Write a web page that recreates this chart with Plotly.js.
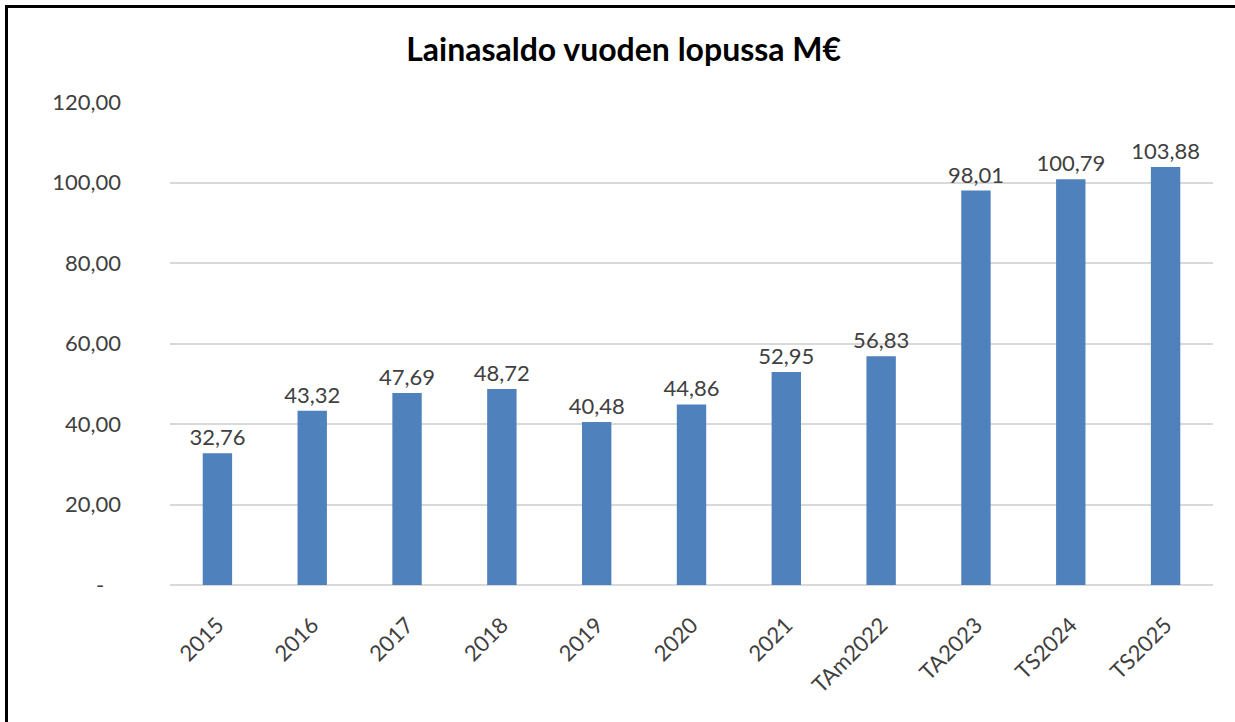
<!DOCTYPE html>
<html>
<head>
<meta charset="utf-8">
<script src="https://cdn.plot.ly/plotly-3.0.1.min.js"></script>
<style>
  body { margin: 0; background: #fff; }
  #chart { position: absolute; left: 0; top: 0; width: 1235px; height: 722px; }
  /* frame of the original screenshot: only top and left edges are visible */
  #frame { position: absolute; left: 5px; top: 5px; width: 1300px; height: 800px;
           border-top: 3px solid #000; border-left: 3px solid #000; pointer-events: none; }
</style>
</head>
<body>
<div id="chart"></div>
<div id="frame"></div>
<script>
// categories and loan balance (M€) at year end
var years = ["2015", "2016", "2017", "2018", "2019", "2020", "2021", "TAm2022", "TA2023", "TS2024", "TS2025"];
var balance = [32.76, 43.32, 47.69, 48.72, 40.48, 44.86, 52.95, 56.83, 98.01, 100.79, 103.88];

var yTicks = [0, 20, 40, 60, 80, 100, 120];
var yTickText = ["-\u00a0\u00a0\u00a0", "20,00", "40,00", "60,00", "80,00", "100,00", "120,00"];

// finnish decimal comma for the labels
var labels = balance.map(v => v.toFixed(2).replace(".", ","));

var trace = {
    x: years,
    y: balance,
    type: "bar",
    text: labels,
    textposition: "outside",
    constraintext: "none",
    cliponaxis: false,
    textfont: {size: 22, color: "#404040"},
    marker: {color: "#4F81BD"},
    hoverinfo: "x+y"
};

var layout = {
    title: {
        text: "<b>Lainasaldo vuoden lopussa M€</b>",
        font: {family: "Lato, sans-serif", size: 32, color: "#000"},
        x: 0.505, xanchor: "center",
        y: 1 - 50 / 722, yanchor: "middle", yref: "container"
    },
    font: {family: "Lato, sans-serif", color: "#404040"},
    width: 1235,
    height: 722,
    margin: {l: 170, r: 22, t: 102, b: 137},
    bargap: 0.69,
    showlegend: false,
    paper_bgcolor: "#fff",
    plot_bgcolor: "#fff",
    xaxis: {
        type: "category",
        tickangle: -45,
        tickfont: {size: 22, color: "#404040"},
        ticklabelstandoff: 22,
        showgrid: false,
        showline: false,
        ticks: ""
    },
    yaxis: {
        range: [0, 120],
        tickvals: yTicks,
        ticktext: yTickText,
        tickfont: {size: 22, color: "#404040"},
        ticklabelstandoff: 48,
        gridcolor: "#d9d9d9",
        gridwidth: 2,
        zeroline: true,
        zerolinecolor: "#d9d9d9",
        zerolinewidth: 2,
        showline: false,
        ticks: ""
    }
};

Plotly.newPlot("chart", [trace], layout, {displayModeBar: false});
</script>
</body>
</html>
